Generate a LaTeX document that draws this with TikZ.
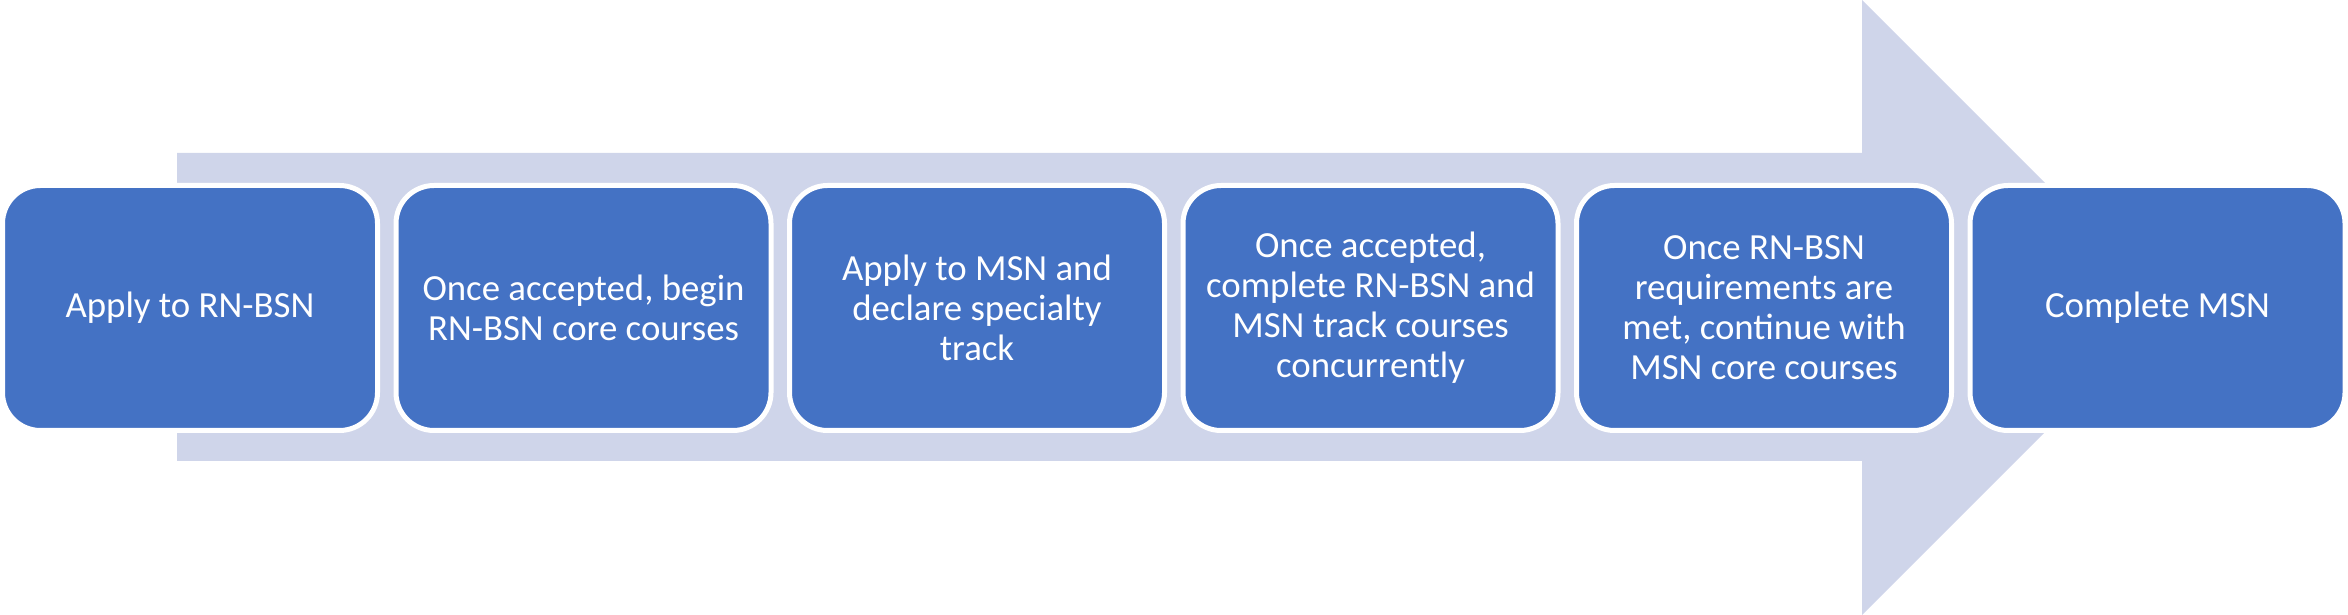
\documentclass[tikz,border=0pt]{standalone}
\usepackage{fontspec}
\setmainfont{Carlito}
\definecolor{boxblue}{HTML}{4472C4}
\definecolor{arrowlight}{HTML}{CFD5EA}
\begin{document}
\begin{tikzpicture}[x=0.5pt,y=0.5pt,
  stepbox/.style={rectangle, rounded corners=19pt, draw=white, line width=2.5pt,
    fill=boxblue, text=white, align=center, inner sep=0pt,
    minimum width=187.5pt, minimum height=122.5pt,
    font=\fontsize{18.4pt}{20pt}\selectfont}]
\useasboundingbox (0,0) rectangle (2348,615);
\fill[arrowlight] (177,154) -- (1862,154) -- (1862,0) -- (2169.5,307.5) -- (1862,615) -- (1862,462) -- (177,462) -- cycle;
\node[stepbox] (s1) at (190,307) {Apply to RN-BSN};
\node[stepbox] (s2) at (583.5,307) {Once accepted, begin\\RN-BSN core courses};
\node[stepbox] (s3) at (977,307) {Apply to MSN and\\declare specialty\\track};
\node[stepbox] (s4) at (1370.5,307) {Once accepted,\\complete RN-BSN and\\MSN track courses\\concurrently};
\node[stepbox] (s5) at (1764,307) {Once RN-BSN\\requirements are\\met, continue with\\MSN core courses};
\node[stepbox] (s6) at (2157.5,307) {Complete MSN};
\end{tikzpicture}
\end{document}
